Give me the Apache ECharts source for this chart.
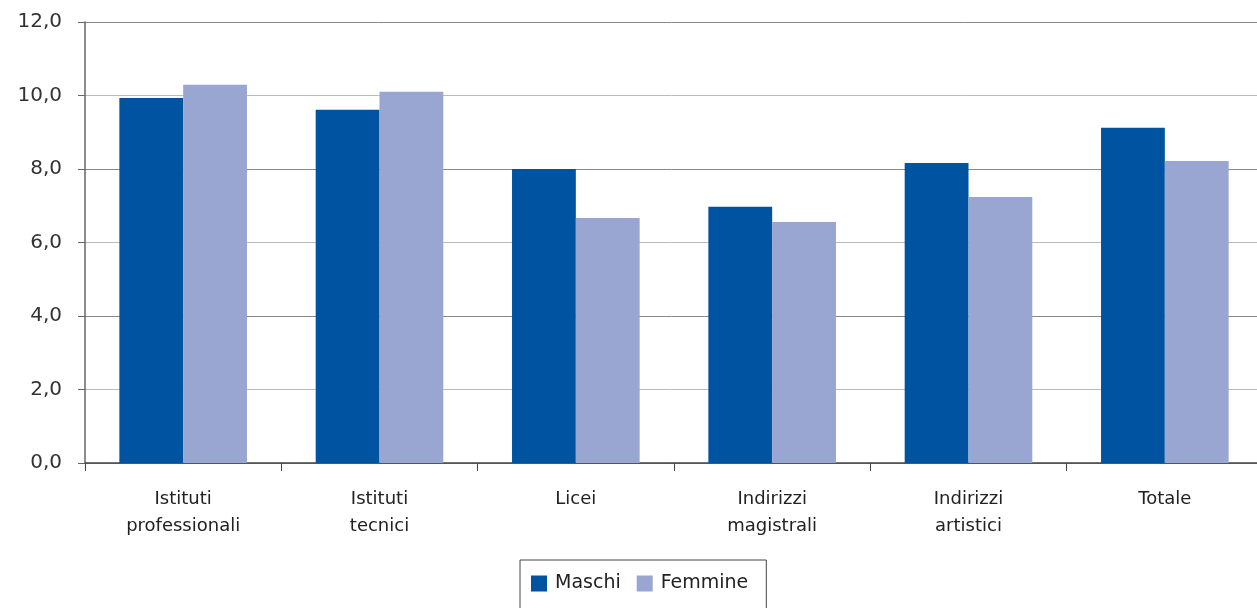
<!DOCTYPE html>
<html>
<head>
<meta charset="utf-8">
<script src="https://cdn.jsdelivr.net/npm/echarts@6/dist/echarts.min.js"></script>
<style>
html,body{margin:0;padding:0;background:#fff;}
#chart{width:1257px;height:608px;}
</style>
</head>
<body>
<div id="chart"></div>
<script>
const categories = ['Istituti\nprofessionali', 'Istituti\ntecnici', 'Licei', 'Indirizzi\nmagistrali', 'Indirizzi\nartistici', 'Totale'];
const maschi = [9.93, 9.61, 8.0, 6.97, 8.16, 9.12];
const femmine = [10.29, 10.10, 6.67, 6.56, 7.24, 8.22];
const seriesNames = ['Maschi', 'Femmine'];

const chart = echarts.init(document.getElementById('chart'), null, {renderer: 'canvas'});
const font = '"DejaVu Sans", "Liberation Sans", sans-serif';
chart.setOption({
  animation: false,
  textStyle: {fontFamily: font},
  grid: {left: 85, top: 22, width: 1178, height: 441, containLabel: false, outerBoundsMode: 'none'},
  legend: {
    data: seriesNames,
    left: 520,
    top: 560,
    orient: 'horizontal',
    itemWidth: 16,
    itemHeight: 16,
    itemGap: 16,
    padding: [14, 18, 40, 11],
    borderColor: '#444',
    borderWidth: 1,
    icon: 'rect',
    textStyle: {fontSize: 19, color: '#222', fontFamily: font, padding: [0, 0, 0, 3]}
  },
  xAxis: {
    type: 'category',
    data: categories,
    boundaryGap: true,
    axisLine: {lineStyle: {color: '#444', width: 1.5}},
    axisTick: {show: true, length: 8, lineStyle: {color: '#444'}},
    axisLabel: {fontSize: 18, color: '#222', lineHeight: 27, margin: 23, interval: 0}
  },
  yAxis: {
    type: 'value',
    min: 0,
    max: 12,
    interval: 2,
    axisLine: {show: true, lineStyle: {color: '#666', width: 1.5}},
    axisTick: {show: true, length: 7, lineStyle: {color: '#666'}},
    axisLabel: {
      fontSize: 20, color: '#333', margin: 23,
      formatter: v => v.toFixed(1).replace('.', ',')
    },
    splitLine: {show: true, lineStyle: {color: ['#888', '#bbb'], width: 1}}
  },
  series: [
    {name: seriesNames[0], type: 'bar', data: maschi, barGap: '0%', barCategoryGap: '35%', itemStyle: {color: '#0053A0'}},
    {name: seriesNames[1], type: 'bar', data: femmine, barGap: '0%', barCategoryGap: '35%', itemStyle: {color: '#98A6D1'}}
  ]
});
</script>
</body>
</html>
